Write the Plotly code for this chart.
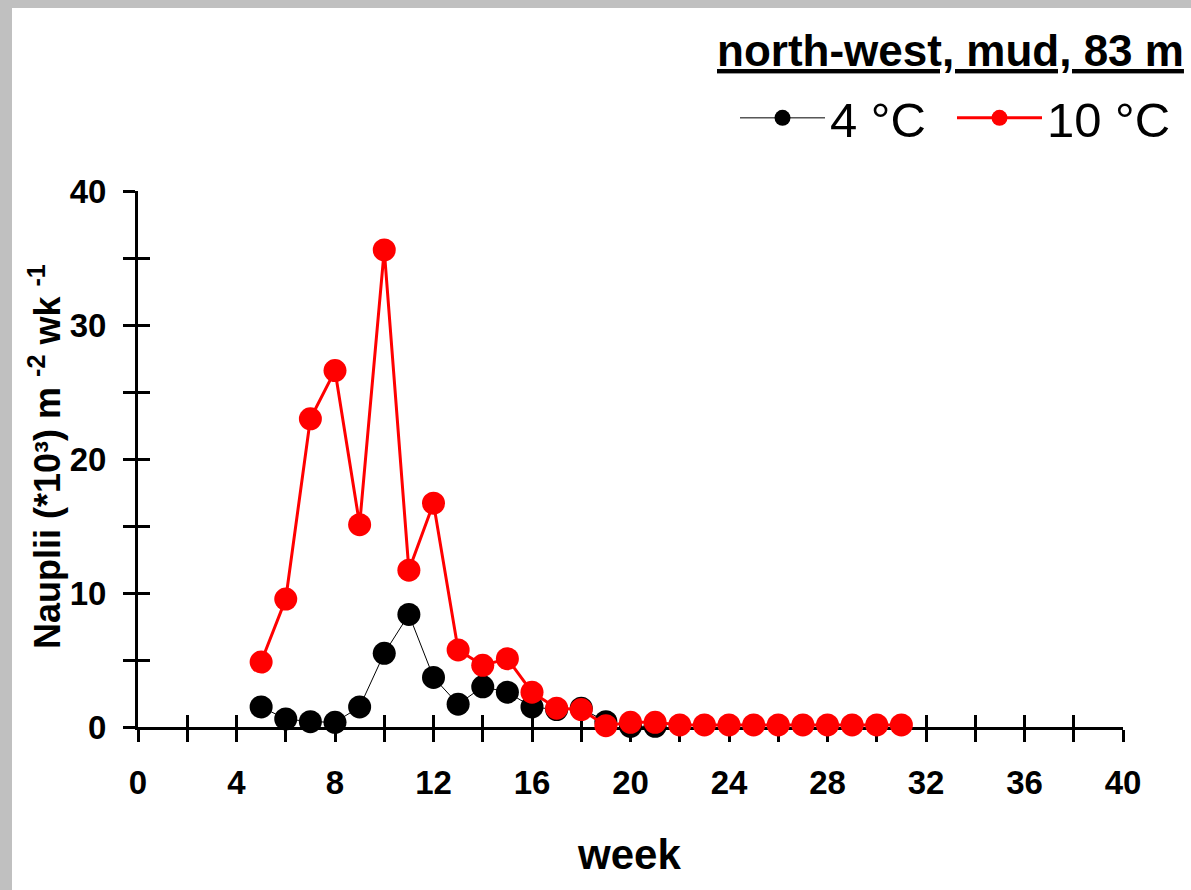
import plotly.graph_objects as go

# Data
weeks_4c = [5, 6, 7, 8, 9, 10, 11, 12, 13, 14, 15, 16, 17, 18, 19, 20, 21]
nauplii_4c = [1.5, 0.6, 0.4, 0.35, 1.5, 5.5, 8.4, 3.7, 1.7, 3.0, 2.6, 1.5, 1.3, 1.4, 0.4, 0.05, 0.05]

weeks_10c = [5, 6, 7, 8, 9, 10, 11, 12, 13, 14, 15, 16, 17, 18, 19, 20, 21,
             22, 23, 24, 25, 26, 27, 28, 29, 30, 31]
nauplii_10c = [4.85, 9.55, 23.0, 26.6, 15.1, 35.6, 11.7, 16.7, 5.75, 4.6, 5.1, 2.6, 1.4, 1.3,
               0.1, 0.35, 0.35, 0.15, 0.15, 0.15, 0.15, 0.15, 0.15, 0.15, 0.15, 0.15, 0.15]

series_names = ["4 °C", "10 °C"]
x_range = [0, 40]
y_range = [0, 40]
x_tickvals = list(range(0, 41, 4))
y_tickvals = list(range(0, 41, 10))

FONT = "Liberation Sans, Arial, sans-serif"

fig = go.Figure()
fig.add_trace(go.Scatter(
    x=weeks_4c, y=nauplii_4c, name=series_names[0], mode="lines+markers",
    line=dict(color="black", width=1),
    marker=dict(color="black", size=23, line=dict(width=0)),
    cliponaxis=False,
))
fig.add_trace(go.Scatter(
    x=weeks_10c, y=nauplii_10c, name=series_names[1], mode="lines+markers",
    line=dict(color="#ff0000", width=3),
    marker=dict(color="#ff0000", size=23, line=dict(width=0)),
    cliponaxis=False,
))

W, H = 1191, 890
L, R, T, B = 138, 68, 191, 163
pw, ph = W - L - R, H - T - B

def px(xp):
    return (xp - L) / pw

def py(yp):
    return (H - B - yp) / ph

tick_common = dict(ticklen=12, tickwidth=2.5, tickcolor="black")

fig.update_layout(
    width=W, height=H,
    margin=dict(l=L, r=R, t=T, b=B, pad=0),
    paper_bgcolor="#c0c0c0",
    plot_bgcolor="white",
    font=dict(family=FONT, color="black"),
    showlegend=True,
    legend=dict(
        orientation="h", x=px(735), xanchor="left", y=py(118), yanchor="middle",
        font=dict(size=49, family=FONT, color="black"),
        bgcolor="rgba(0,0,0,0)", itemwidth=85, entrywidth=117, tracegroupgap=0,
    ),
    xaxis=dict(
        range=x_range, tickvals=x_tickvals, ticks="outside", **tick_common,
        minor=dict(dtick=2, ticks="outside", ticklen=12, tickwidth=2.5, tickcolor="black"),
        showline=True, linecolor="black", linewidth=3, showgrid=False, zeroline=False,
        tickfont=dict(size=33, family=FONT, color="black", weight="bold"),
        ticklabelstandoff=12, layer="below traces",
    ),
    xaxis2=dict(
        range=x_range, tickvals=x_tickvals, ticks="inside", **tick_common,
        minor=dict(dtick=2, ticks="inside", ticklen=12, tickwidth=2.5, tickcolor="black"),
        overlaying="x", anchor="y", side="bottom", showticklabels=False,
        showline=False, showgrid=False, zeroline=False, layer="below traces",
    ),
    yaxis=dict(
        range=y_range, tickvals=y_tickvals, ticks="outside", **tick_common,
        minor=dict(dtick=5, ticks="outside", ticklen=12, tickwidth=2.5, tickcolor="black"),
        showline=True, linecolor="black", linewidth=3, showgrid=False, zeroline=False,
        tickfont=dict(size=33, family=FONT, color="black", weight="bold"),
        ticklabelstandoff=10, layer="below traces",
    ),
    yaxis2=dict(
        range=y_range, tickvals=y_tickvals, ticks="inside", **tick_common,
        minor=dict(dtick=5, ticks="inside", ticklen=12, tickwidth=2.5, tickcolor="black"),
        overlaying="y", anchor="x", side="left", showticklabels=False,
        showline=False, showgrid=False, zeroline=False, layer="below traces",
    ),
    shapes=[dict(
        type="rect", xref="paper", yref="paper",
        x0=px(12), x1=px(W + 20), y0=py(H + 20), y1=py(8),
        fillcolor="white", line=dict(width=0), layer="below",
    )],
    annotations=[
        dict(text="<b><u>north-west, mud, 83 m</u></b>", xref="paper", yref="paper",
             x=px(1186), y=py(50), xanchor="right", yanchor="middle", showarrow=False,
             font=dict(size=44, family=FONT, color="black")),
        dict(text="<b>week</b>", xref="paper", yref="paper",
             x=px(629), y=py(854), xanchor="center", yanchor="middle", showarrow=False,
             font=dict(size=42, family=FONT, color="black")),
        dict(text="<b>Nauplii (*10³) m <sup>-2</sup> wk <sup>-1</sup></b>", xref="paper", yref="paper",
             x=px(45), y=py(457), xanchor="center", yanchor="middle", showarrow=False,
             textangle=-90, font=dict(size=36, family=FONT, color="black")),
    ],
)

# dummy trace so the overlay axes are drawn
fig.add_trace(go.Scatter(x=[None], y=[None], xaxis="x2", yaxis="y2", showlegend=False, hoverinfo="skip"))

fig.write_html(
    "out.html",
    config={"displayModeBar": False},
    post_script="document.body.style.margin='0px';document.body.style.overflow='hidden';",
)
